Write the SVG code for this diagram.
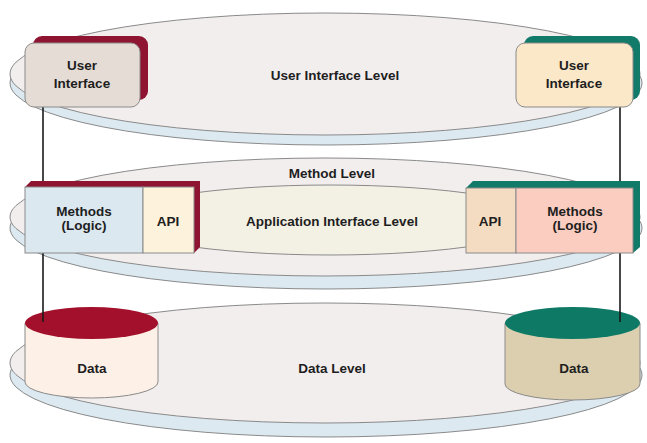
<svg xmlns="http://www.w3.org/2000/svg" width="647" height="443" viewBox="0 0 647 443">
<style>
.disc{fill:#f3eeee;stroke:#8a8a8a;stroke-width:1}
.under{fill:#dce9f1;stroke:#8a8a8a;stroke-width:1}
.inner{fill:#f3f0e4;stroke:#8a8a8a;stroke-width:1}
.t{font-family:"Liberation Sans",Arial,sans-serif;font-weight:bold;font-size:13.5px;fill:#1e1e1e;text-anchor:middle}
.edge{stroke:#1a1a1a;stroke-width:1.6;fill:none}
.maroon{fill:#8e1431}
.teal{fill:#127a68}
.bx{stroke:#8a8a8a;stroke-width:1}
</style>
<rect width="647" height="443" fill="#ffffff"/>

<g id="user-interface-level">
<ellipse class="under" cx="326" cy="83" rx="316" ry="62"/>
<ellipse class="disc" cx="325" cy="74" rx="315" ry="61"/>
<text class="t" x="335" y="80">User Interface Level</text>
</g>

<g id="method-level">
<ellipse class="under" cx="326" cy="228" rx="316" ry="61"/>
<ellipse class="disc" cx="325" cy="217" rx="315" ry="59"/>
<text class="t" x="332" y="178">Method Level</text>
</g>

<g id="application-interface-level">
<ellipse class="inner" cx="330" cy="220" rx="214" ry="35"/>
<text class="t" x="332" y="226" font-size="14">Application Interface Level</text>
</g>

<g id="data-level">
<ellipse class="under" cx="326" cy="375" rx="316" ry="62"/>
<ellipse class="disc" cx="325" cy="363" rx="315" ry="60"/>
<text class="t" x="332" y="373">Data Level</text>
</g>

<g id="data-left">
<path d="M25,323 L25,382 A66.5,16 0 0 0 158,382 L158,323 Z" fill="#fdf0e6" class="bx"/>
<ellipse cx="91.5" cy="323" rx="66.5" ry="16" fill="#a3102c"/>
<text class="t" x="92" y="373">Data</text>
</g>

<g id="data-right">
<path d="M505,323 L505,384 A67.5,16 0 0 0 640,384 L640,323 Z" fill="#dccfb0" class="bx"/>
<ellipse cx="572.5" cy="323" rx="67.5" ry="16" fill="#0e7a66"/>
<text class="t" x="574" y="373">Data</text>
</g>

<g id="connectors">
<line class="edge" x1="43" y1="105" x2="43" y2="322"/>
<line class="edge" x1="620" y1="105" x2="620" y2="322"/>
</g>

<g id="methods-left">
<polygon class="maroon" points="25,187 31,181 200,181 200,247 194,253 194,187"/>
<rect class="bx" x="25" y="187" width="118" height="66" fill="#dce8f0"/>
<rect class="bx" x="143" y="187" width="51" height="66" fill="#fdf2dc"/>
<text class="t" x="84" y="216">Methods</text>
<text class="t" x="84" y="230">(Logic)</text>
<text class="t" x="168" y="226">API</text>
</g>

<g id="methods-right">
<polygon class="teal" points="466,188 473,181 640,181 640,247 633,253 633,188"/>
<rect class="bx" x="466" y="188" width="50" height="65" fill="#f4dcc2"/>
<rect class="bx" x="516" y="188" width="117" height="65" fill="#fbcdc0"/>
<text class="t" x="490" y="226">API</text>
<text class="t" x="575" y="216">Methods</text>
<text class="t" x="575" y="230">(Logic)</text>
</g>

<g id="ui-left">
<rect class="maroon" x="33" y="36" width="115" height="64" rx="9"/>
<rect class="bx" x="25" y="43" width="115" height="64" rx="9" fill="#e5ddd5"/>
<text class="t" x="82" y="70">User</text>
<text class="t" x="82" y="88">Interface</text>
</g>

<g id="ui-right">
<rect class="teal" x="524" y="36" width="116" height="64" rx="9"/>
<rect class="bx" x="516" y="43" width="117" height="64" rx="9" fill="#fbe8c8"/>
<text class="t" x="574" y="70">User</text>
<text class="t" x="574" y="88">Interface</text>
</g>
</svg>
